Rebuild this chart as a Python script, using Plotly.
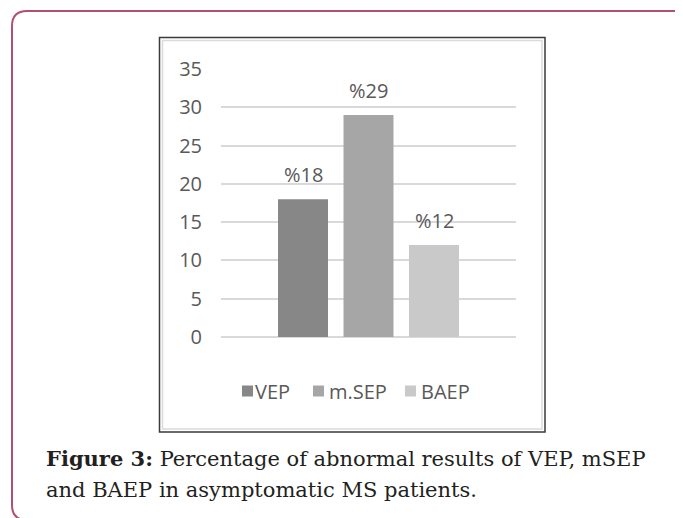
import plotly.graph_objects as go

# ---- data ----
categories = ["VEP", "m.SEP", "BAEP"]
values = [18, 29, 12]
value_labels = ["%18", "%29", "%12"]
bar_colors = ["#878787", "#a6a6a6", "#c9c9c9"]
y_ticks = [0, 5, 10, 15, 20, 25, 30, 35]

# ---- layout geometry (page pixels; page has an 8px body margin) ----
OFF = 8
W, H = 683 - OFF, 518 - OFF
ML, MR, MT, MB = 221 - OFF, 683 - 516, 69 - OFF, 518 - 337
PW, PH = W - ML - MR, H - MT - MB
legend_square_x = [242, 313, 405]
legend_text_x = [253, 327, 419]
legend_y = 391


def px(x):
    return (x - OFF - ML) / PW


def py(y):
    return (H - MB - (y - OFF)) / PH


fig = go.Figure()
for cat, val, lab, col in zip(categories, values, value_labels, bar_colors):
    fig.add_trace(go.Bar(
        x=[cat], y=[val], name=cat, marker=dict(color=col, line=dict(width=0)),
        width=0.763, showlegend=False,
    ))
    fig.add_annotation(
        x=cat, y=val, xref="x", yref="y", text=lab, showarrow=False,
        yanchor="bottom", yshift=9,
        font=dict(family="Open Sans", size=20, color="#595959"),
    )

shapes = []
# outer maroon frame (rounded corners)
frame = (f"M {px(27)},{py(520)} Q {px(12)},{py(520)} {px(12)},{py(505)} "
         f"L {px(12)},{py(26)} Q {px(12)},{py(11)} {px(27)},{py(11)} "
         f"L {px(700)},{py(11)}")
shapes.append(dict(type="path", path=frame, xref="paper", yref="paper",
                   line=dict(color="#b24f73", width=2), layer="above"))
# chart box borders
shapes.append(dict(type="rect", xref="paper", yref="paper",
                   x0=px(159.5), x1=px(545), y0=py(432), y1=py(37.5),
                   line=dict(color="#3a3a3a", width=1.5)))
shapes.append(dict(type="rect", xref="paper", yref="paper",
                   x0=px(162.5), x1=px(542), y0=py(429), y1=py(40.5),
                   line=dict(color="#dadada", width=1.5)))

# legend (squares + labels)
for cat, col, sx, tx in zip(categories, bar_colors, legend_square_x, legend_text_x):
    shapes.append(dict(type="rect", xref="paper", yref="paper",
                       x0=px(sx), x1=px(sx + 11), y0=py(legend_y + 5.5), y1=py(legend_y - 5.5),
                       fillcolor=col, line=dict(width=0)))
    fig.add_annotation(
        x=px(tx), y=py(legend_y), xref="paper", yref="paper", xanchor="left", yanchor="middle",
        text=cat, showarrow=False,
        font=dict(family="Open Sans", size=20, color="#595959"),
    )

cap_font = dict(family="DejaVu Serif", size=21, color="#231f20")
fig.add_annotation(
    x=px(44), y=py(458), xref="paper", yref="paper", xanchor="left", yanchor="middle",
    text="<b>Figure 3:</b> Percentage of abnormal results of VEP, mSEP",
    showarrow=False, font=cap_font,
)
fig.add_annotation(
    x=px(44), y=py(490), xref="paper", yref="paper", xanchor="left", yanchor="middle",
    text="and BAEP in asymptomatic MS patients.",
    showarrow=False, font=cap_font,
)

fig.update_layout(
    width=W, height=H,
    margin=dict(l=ML, r=MR, t=MT, b=MB, pad=0),
    paper_bgcolor="white", plot_bgcolor="white",
    barmode="overlay",
    shapes=shapes,
    showlegend=False,
    xaxis=dict(range=[-1.252, 3.252], showticklabels=False, showgrid=False,
               zeroline=False, showline=False, ticks=""),
    yaxis=dict(range=[0, 35], tickvals=y_ticks, showgrid=True, gridcolor="#d9d9d9",
               gridwidth=1.5, zeroline=True, zerolinecolor="#d9d9d9", zerolinewidth=1.5,
               showline=False, ticks="", ticklabelstandoff=18,
               tickfont=dict(family="Open Sans", size=20, color="#595959")),
)

fig.write_html("out.html")
